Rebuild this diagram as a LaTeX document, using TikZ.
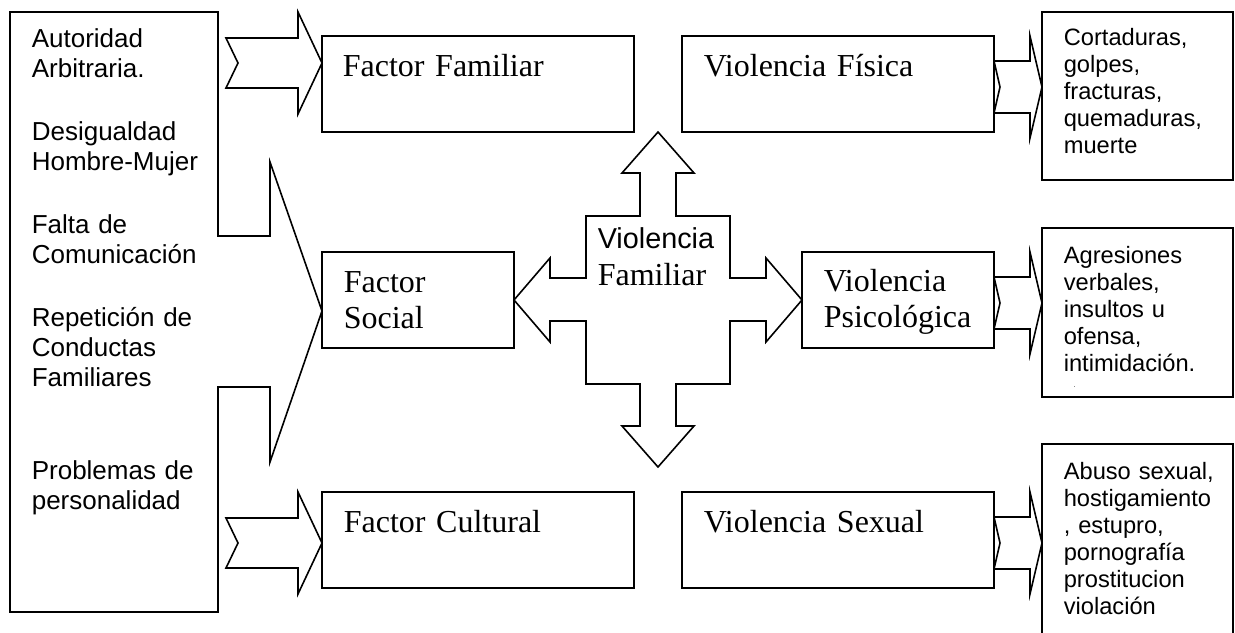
\documentclass[tikz,border=0pt]{standalone}
\usepackage{fontspec}
\setmainfont{Liberation Serif}
\setsansfont{Liberation Sans}
\usetikzlibrary{calc}

\begin{document}
\begin{tikzpicture}[x=0.75pt, y=-0.75pt, line width=1.2pt,
  box/.style = {draw, rectangle, inner sep=0pt, outer sep=0pt},
  ttl/.style = {anchor=base west, inner sep=0pt, align=left, text width=230pt, font=\rmfamily\fontsize{24}{27}\selectfont},
  lst/.style = {anchor=base west, inner sep=0pt, align=left, text width=140pt, font=\sffamily\fontsize{17.75}{20.25}\selectfont}]
\useasboundingbox (0,0) rectangle (1235,632);
\clip (0,0) rectangle (1235,632);

% causas
\draw (10,12) -- (218,12) -- (218,236) -- (270,236) -- (270,162) -- (322,311) -- (270,462) -- (270,387) -- (218,387) -- (218,612) -- (10,612) -- cycle;
\node[lst, text width=190pt, font=\sffamily\fontsize{19.5}{22.5}\selectfont] (causas) at (31,47) {Autoridad\\Arbitraria.\\[24.75pt]Desigualdad\\Hombre-Mujer\\[24.75pt]Falta de\\Comunicación\\[24.75pt]Repetición de\\Conductas\\Familiares\\[47.25pt]Problemas de\\personalidad};

% factores
\node[box, minimum width=234pt, minimum height=72pt] (ffam) at (478,84) {};
\node[box, minimum width=144pt, minimum height=72pt] (fsoc) at (418,300) {};
\node[box, minimum width=234pt, minimum height=72pt] (fcul) at (478,540) {};
\node[ttl] (ffamt) at (342,76) {Factor Familiar};
\node[ttl] (fsoct) at (343,292) {Factor\\Social};
\node[ttl] (fcult) at (343,532) {Factor Cultural};

% tipos de violencia
\node[box, minimum width=234pt, minimum height=72pt] (vfis) at (838,84) {};
\node[box, minimum width=144pt, minimum height=72pt] (vpsi) at (898,300) {};
\node[box, minimum width=234pt, minimum height=72pt] (vsex) at (838,540) {};
\node[ttl] (vfist) at (703,76) {Violencia Física};
\node[ttl] (vpsit) at (823,291) {Violencia\\Psicológica};
\node[ttl] (vsext) at (703,532) {Violencia Sexual};

% consecuencias
\node[box, minimum width=143.25pt, minimum height=126pt] (dfis) at (1137.5,96) {};
\node[box, minimum width=143.25pt, minimum height=126.75pt] (dpsi) at (1137.5,312.5) {};
\node[box, minimum width=143.25pt, minimum height=162pt] (dsex) at (1137.5,552) {};
\node[lst] (dfist) at (1063,45) {Cortaduras,\\golpes,\\fracturas,\\quemaduras,\\muerte};
\node[lst] (dpsit) at (1063,263) {Agresiones\\verbales,\\insultos u\\ofensa,\\intimidación.\\[-8.25pt]\hspace*{7.5pt}{\tiny .}};
\node[lst] (dsext) at (1063,479) {Abuso sexual,\\hostigamiento\\, estupro,\\pornografía\\prostitucion\\violación};

% centro
\draw (fsoc.east) -- (550,258) -- (550,278) -- (586,278) -- (586,216) -- (640,216) -- (640,173) -- (622,173) -- (658,132) -- (694,173) -- (676,173) -- (676,216) -- (730,216) -- (730,278) -- (766,278) -- (766,258) -- (vpsi.west) -- (766,342) -- (766,321) -- (730,321) -- (730,384) -- (676,384) -- (676,426) -- (694,426) -- (658,467) -- (622,426) -- (640,426) -- (640,384) -- (586,384) -- (586,321) -- (550,321) -- (550,342) -- cycle;
\node[ttl, font=\rmfamily\fontsize{24}{27.75}\selectfont] (vfam) at (597,248) {{\sffamily\fontsize{21.6}{27.75}\selectfont Violencia}\\Familiar};

% flechas
\draw ($(ffam.north west)+(0,27)$) -- ++(-24,-51) -- ++(0,26) -- ++(-72,0) -- ++(12,25) -- ++(-12,25) -- ++(72,0) -- ++(0,26) -- cycle;
\draw ($(fcul.north west)+(0,51)$) -- ++(-24,-51) -- ++(0,26) -- ++(-72,0) -- ++(12,25) -- ++(-12,25) -- ++(72,0) -- ++(0,26) -- cycle;
\draw ($(vfis.east)+(48,3)$) -- ++(-12,-51) -- ++(0,25) -- ++(-36,0) -- ++(6,26) -- ++(-6,26) -- ++(36,0) -- ++(0,25) -- cycle;
\draw ($(vpsi.east)+(48,3)$) -- ++(-12,-51) -- ++(0,25) -- ++(-36,0) -- ++(6,26) -- ++(-6,26) -- ++(36,0) -- ++(0,25) -- cycle;
\draw ($(vsex.east)+(48,3)$) -- ++(-12,-51) -- ++(0,25) -- ++(-36,0) -- ++(6,26) -- ++(-6,26) -- ++(36,0) -- ++(0,25) -- cycle;
\end{tikzpicture}
\end{document}
